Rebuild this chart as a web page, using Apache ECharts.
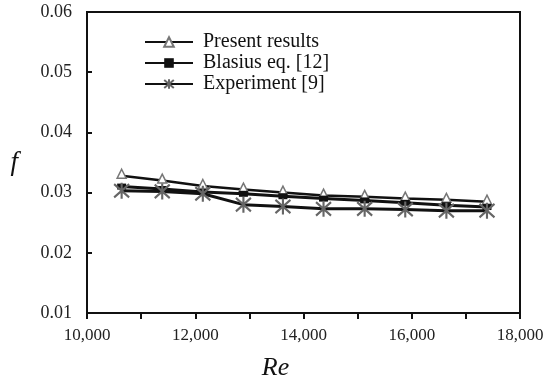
<!DOCTYPE html>
<html>
<head>
<meta charset="utf-8">
<script src="https://cdn.jsdelivr.net/npm/echarts@6/dist/echarts.min.js"></script>
<style>html,body{margin:0;padding:0;background:#fff}#c{width:550px;height:380px}</style>
</head>
<body>
<div id="c"></div>
<script>
const reynolds = [10640, 11390, 12140, 12890, 13620, 14370, 15130, 15880, 16640, 17390];
const presentResults = [0.0328, 0.0320, 0.0311, 0.0305, 0.0300, 0.0295, 0.0293, 0.0290, 0.0288, 0.0285];
const blasius = [0.0310, 0.0306, 0.0301, 0.0298, 0.0294, 0.0290, 0.0287, 0.0283, 0.0279, 0.0276];
const experiment = [0.0303, 0.0302, 0.0298, 0.0280, 0.0277, 0.0273, 0.0273, 0.0272, 0.0270, 0.0270];
const seriesNames = ['Present results', 'Blasius eq. [12]', 'Experiment [9]'];

const pairs = (ys) => reynolds.map((x, i) => [x, ys[i]]);
const serif = 'Liberation Serif';
const chart = echarts.init(document.getElementById('c'));
chart.setOption({
  animation: false,
  backgroundColor: '#fff',
  grid: { left: 87, right: 30, top: 12, bottom: 67, show: true, borderColor: '#111', borderWidth: 2,
          containLabel: false, outerBoundsMode: 'none' },
  legend: {
    left: 139, top: 27, orient: 'vertical', itemGap: 1, itemWidth: 48, itemHeight: 12,
    textStyle: { fontFamily: serif, fontSize: 20, color: '#111', padding: [0, 0, 0, 5] },
    data: seriesNames
  },
  xAxis: {
    type: 'value', min: 10000, max: 18000, interval: 2000,
    name: 'Re', nameLocation: 'middle', nameGap: 42,
    nameTextStyle: { fontFamily: serif, fontStyle: 'italic', fontSize: 26, color: '#111', padding: [0, 56, 0, 0] },
    axisLine: { lineStyle: { color: '#111', width: 2 } },
    axisTick: { show: true, inside: false, length: 6, lineStyle: { color: '#111', width: 2 } },
    minorTick: { show: true, splitNumber: 2, length: 6, lineStyle: { color: '#111', width: 2 } },
    splitLine: { show: false },
    axisLabel: { fontFamily: serif, fontSize: 17, color: '#222', margin: 14,
      formatter: v => v.toLocaleString('en-US') }
  },
  yAxis: {
    type: 'value', min: 0.01, max: 0.06, interval: 0.01,
    name: 'f', nameLocation: 'middle', nameGap: 69, nameRotate: 0,
    nameTextStyle: { fontFamily: serif, fontStyle: 'italic', fontSize: 27, color: '#111', padding: [0, 0, 8, 0] },
    axisLine: { lineStyle: { color: '#111', width: 2 } },
    axisTick: { show: true, inside: true, length: 5, lineStyle: { color: '#111', width: 2 } },
    splitLine: { show: false },
    axisLabel: { fontFamily: serif, fontSize: 18, color: '#222', margin: 15,
      formatter: v => v.toFixed(2) }
  },
  series: [
    {
      name: seriesNames[0], type: 'line', data: pairs(presentResults), z: 3,
      symbol: 'triangle', symbolSize: [9, 9], symbolOffset: [0, -2],
      lineStyle: { color: '#111', width: 2.5 },
      itemStyle: { color: '#fff', borderColor: '#777', borderWidth: 1.5 }
    },
    {
      name: seriesNames[1], type: 'line', data: pairs(blasius), z: 4,
      symbol: 'rect', symbolSize: [9, 6],
      lineStyle: { color: '#111', width: 3 },
      itemStyle: { color: '#111', borderColor: '#111', borderWidth: 0 }
    },
    {
      name: seriesNames[2], type: 'line', data: pairs(experiment), z: 5,
      symbol: 'path://M0,0L10,10M10,0L0,10M5,-1L5,11', symbolSize: [15, 16],
      lineStyle: { color: '#111', width: 3 },
      itemStyle: { color: 'rgba(0,0,0,0)', borderColor: '#666', borderWidth: 2.2 }
    }
  ]
});
</script>
</body>
</html>
